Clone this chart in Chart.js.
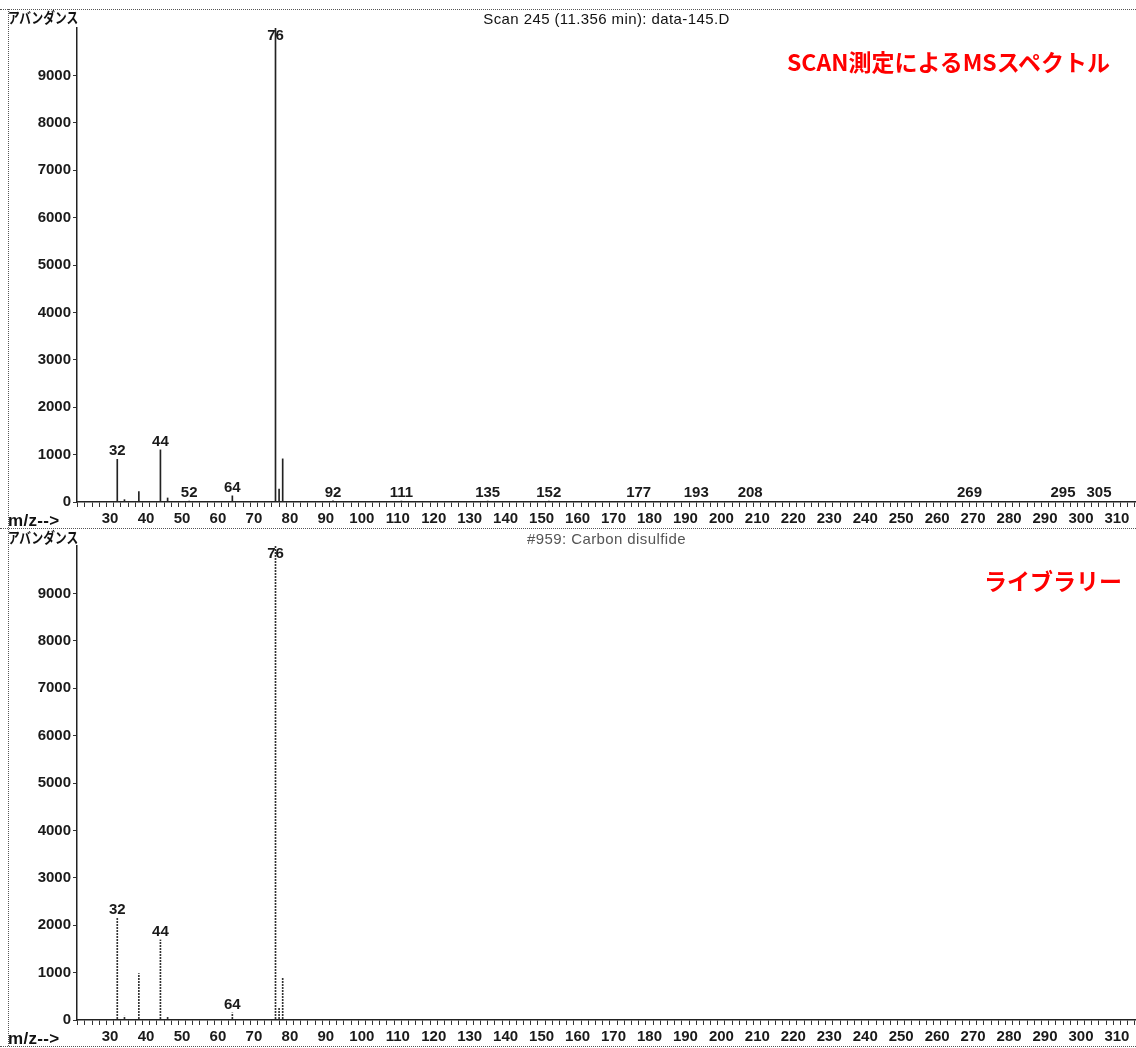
<!DOCTYPE html>
<html>
<head>
<meta charset="utf-8">
<script src="https://cdn.jsdelivr.net/npm/chart.js@4.4.1/dist/chart.umd.min.js"></script>
<style>
  html, body { margin: 0; padding: 0; background: #fff; }
  #page { position: relative; width: 1136px; height: 1048px; overflow: hidden; font-family: "Liberation Sans", Arial, sans-serif; color: #111; }
  canvas { position: absolute; left: 0; }
  #c1 { top: 0; }
  #c2 { top: 528px; }
  .rule { position: absolute; border-top: 1px dotted #555; left: 0; width: 1136px; height: 0; }
  .vrule { position: absolute; border-left: 1px dotted #555; left: 8px; top: 9px; width: 0; height: 1037px; }
  .txt { position: absolute; white-space: nowrap; line-height: 1; }
  .abund { left: 8px; font-family: "Noto Sans CJK JP", sans-serif; font-size: 15px; font-weight: bold; transform: scaleX(0.78); transform-origin: left center; }
  .mz { left: 8px; font-size: 17px; font-weight: bold; letter-spacing: 0.3px; }
  .title { font-size: 15px; letter-spacing: 0.4px; left: 77px; width: 1059px; text-align: center; }
  .note { font-family: "Noto Sans CJK JP", sans-serif; font-weight: bold; color: #ff0000; font-size: 23px; }
</style>
</head>
<body>
<div id="page">
  <canvas id="c1" width="1136" height="528"></canvas>
  <canvas id="c2" width="1136" height="520"></canvas>
  <div class="rule" style="top:9px"></div>
  <div class="rule" style="top:528px"></div>
  <div class="rule" style="top:1046px"></div>
  <div class="vrule"></div>
  <div class="txt abund" style="top:9px">アバンダンス</div>
  <div class="txt abund" style="top:529px">アバンダンス</div>
  <div class="txt mz" style="top:512px">m/z--&gt;</div>
  <div class="txt mz" style="top:1030px">m/z--&gt;</div>
  <div class="txt title" style="top:11px">Scan 245 (11.356 min): data-145.D</div>
  <div class="txt title" style="top:531px; color:#555">#959: Carbon disulfide</div>
  <div class="txt note" style="left:787px; top:50px">SCAN測定によるMSスペクトル</div>
  <div class="txt note" style="left:984px; top:569px">ライブラリー</div>
</div>
<script>
// measured scan spectrum
const scanMz = [32, 34, 38, 44, 46, 52, 64, 76, 77, 78, 92, 111, 135, 152, 177, 193, 208, 269, 295, 305];
const scanAbund = [900, 50, 220, 1100, 85, 20, 130, 10000, 275, 910, 25, 20, 20, 20, 15, 15, 15, 15, 15, 15];
const scanLabels = [32, 44, 52, 64, 76, 92, 111, 135, 152, 177, 193, 208, 269, 295, 305];

// library spectrum (#959 Carbon disulfide)
const libMz = [32, 34, 38, 44, 46, 64, 76, 77, 78];
const libAbund = [2150, 80, 980, 1690, 60, 150, 10000, 250, 885];
const libLabels = [32, 44, 64, 76];

const xMin = 20.8;
const xMax = 315.3;
const xTickStep = 2;
const xLabelStep = 10;
const yTicks = [0, 1000, 2000, 3000, 4000, 5000, 6000, 7000, 8000, 9000];

const tickFont = { family: '"Liberation Sans", Arial, sans-serif', size: 15, weight: 'bold' };

const peakLabelPlugin = {
  id: 'peakLabels',
  afterDatasetsDraw(chart, args, opts) {
    const { ctx, chartArea } = chart;
    const xs = chart.scales.x;
    const ys = chart.scales.y;
    const pts = chart.data.datasets[0].data;
    ctx.save();
    ctx.font = 'bold 15px "Liberation Sans", Arial, sans-serif';
    ctx.fillStyle = '#1a1a1a';
    ctx.textAlign = 'center';
    ctx.textBaseline = 'middle';
    opts.values.forEach(v => {
      const p = pts.find(d => d.x === v);
      if (!p) return;
      const px = xs.getPixelForValue(p.x);
      const py = ys.getPixelForValue(p.y);
      ctx.fillText(String(v), px, Math.max(py - 8, chartArea.top + 8));
    });
    ctx.restore();
  }
};

function makeChart(canvasId, mz, abund, labels, color, padTop, axisHeight) {
  return new Chart(document.getElementById(canvasId), {
    type: 'bar',
    data: {
      datasets: [{
        data: mz.map((m, i) => ({ x: m, y: abund[i] })),
        backgroundColor: color,
        borderWidth: 0,
        barThickness: 1
      }]
    },
    options: {
      responsive: false,
      animation: false,
      devicePixelRatio: 1,
      layout: { padding: { top: padTop, left: 0, right: 0, bottom: 0 } },
      plugins: {
        legend: { display: false },
        tooltip: { enabled: false },
        peakLabels: { values: labels }
      },
      scales: {
        x: {
          type: 'linear',
          offset: false,
          min: xMin,
          max: xMax,
          afterBuildTicks(scale) {
            const t = [];
            for (let v = Math.ceil(xMin / xTickStep) * xTickStep; v <= xMax; v += xTickStep) t.push({ value: v });
            scale.ticks = t;
          },
          afterFit(scale) { scale.height = axisHeight; },
          ticks: {
            autoSkip: false,
            maxRotation: 0,
            minRotation: 0,
            padding: 3,
            color: '#1a1a1a',
            font: tickFont,
            callback: v => (v % xLabelStep === 0 && v >= 30 ? String(v) : '')
          },
          grid: {
            drawOnChartArea: false,
            drawTicks: true,
            tickLength: 5,
            color: '#333',
            lineWidth: 1
          },
          border: { display: true, color: '#222', width: 1.5 }
        },
        y: {
          type: 'linear',
          min: 0,
          max: 10000,
          afterBuildTicks(scale) {
            scale.ticks = yTicks.map(v => ({ value: v }));
          },
          afterFit(scale) { scale.width = 77; },
          ticks: {
            padding: 2,
            color: '#1a1a1a',
            font: tickFont,
            callback: v => String(v)
          },
          grid: {
            drawOnChartArea: false,
            drawTicks: true,
            tickLength: 4,
            color: '#333'
          },
          border: { display: true, color: '#222', width: 1.5 }
        }
      }
    },
    plugins: [peakLabelPlugin]
  });
}

// dotted stick pattern for the library spectrum
const pc = document.createElement('canvas');
pc.width = 2;
pc.height = 3;
const pctx = pc.getContext('2d');
pctx.fillStyle = '#333';
pctx.fillRect(0, 0, 2, 2);
const dotted = document.getElementById('c2').getContext('2d').createPattern(pc, 'repeat');

makeChart('c1', scanMz, scanAbund, scanLabels, '#222', 28, 26);
makeChart('c2', libMz, libAbund, libLabels, dotted, 18, 28);
</script>
</body>
</html>
